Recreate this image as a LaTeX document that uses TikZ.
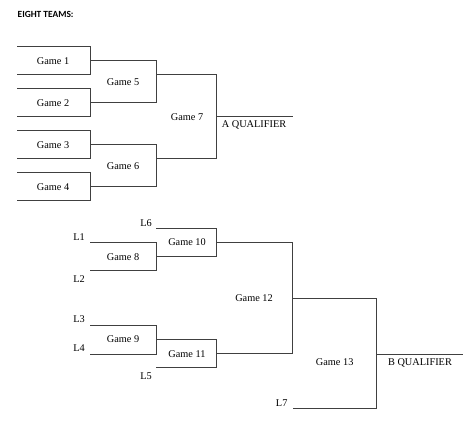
\documentclass[tikz,border=0pt]{standalone}
\usepackage{fontspec}
\setmainfont{Liberation Serif}
\newfontfamily\headfont{Carlito}
\begin{document}
\begin{tikzpicture}[x=1pt,y=-1pt,
  bline/.style={draw=black!75,line width=0.9pt},
  lbl/.style={inner sep=0pt,font=\fontsize{10.3}{12}\selectfont}]
\useasboundingbox (0,0) rectangle (474,426);
\node[anchor=west,inner sep=0pt,font=\headfont\bfseries\fontsize{9.4}{11}\selectfont] (title) at (17.5,14) {EIGHT TEAMS:};
% top bracket coordinates
\foreach \n/\a/\b in {1/46/74,2/88/116,3/130/158,4/172/200}{
  \coordinate (g\n tl) at (17,\a); \coordinate (g\n tr) at (90,\a);
  \coordinate (g\n br) at (90,\b); \coordinate (g\n bl) at (17,\b);
}
\foreach \n in {1,2,3,4}{ \draw[bline] (g\n tl) -- (g\n tr) -- (g\n br) -- (g\n bl); }
\coordinate (g5tl) at (90,60); \coordinate (g5tr) at (156,60);
\coordinate (g5br) at (156,102); \coordinate (g5bl) at (90,102);
\coordinate (g6tl) at (90,144); \coordinate (g6tr) at (156,144);
\coordinate (g6br) at (156,186); \coordinate (g6bl) at (90,186);
\coordinate (g7tl) at (156,74); \coordinate (g7tr) at (216,74);
\coordinate (g7br) at (216,158); \coordinate (g7bl) at (156,158);
\coordinate (aq1) at (216,116); \coordinate (aq2) at (293,116);
\draw[bline] (g5tl) -- (g5tr) -- (g5br) -- (g5bl);
\draw[bline] (g6tl) -- (g6tr) -- (g6br) -- (g6bl);
\draw[bline] (g7tl) -- (g7tr) -- (g7br) -- (g7bl);
\draw[bline] (aq1) -- (aq2);
\node[lbl] (t1) at (53,61) {Game 1};
\node[lbl] (t2) at (53,102.7) {Game 2};
\node[lbl] (t3) at (53,145.3) {Game 3};
\node[lbl] (t4) at (53,187) {Game 4};
\node[lbl] (t5) at (123,82) {Game 5};
\node[lbl] (t6) at (123,165.7) {Game 6};
\node[lbl] (t7) at (187,117) {Game 7};
\node[lbl] (taq) at (254,125) {A QUALIFIER};
% bottom bracket
\coordinate (g8tl) at (90,242); \coordinate (g8tr) at (156,242);
\coordinate (g8br) at (156,270); \coordinate (g8bl) at (90,270);
\coordinate (g10tl) at (156,228); \coordinate (g10tr) at (216,228);
\coordinate (g10br) at (216,256); \coordinate (g10bl) at (156,256);
\coordinate (g9tl) at (90,325); \coordinate (g9tr) at (156,325);
\coordinate (g9br) at (156,354); \coordinate (g9bl) at (90,354);
\coordinate (g11tl) at (156,339); \coordinate (g11tr) at (216,339);
\coordinate (g11br) at (216,367); \coordinate (g11bl) at (156,367);
\coordinate (g12tl) at (216,242); \coordinate (g12tr) at (292,242);
\coordinate (g12br) at (292,353); \coordinate (g12bl) at (216,353);
\coordinate (g13tl) at (292,298); \coordinate (g13tr) at (376,298);
\coordinate (g13br) at (376,408); \coordinate (g13bl) at (293,408);
\coordinate (bq1) at (376,354); \coordinate (bq2) at (463,354);
\draw[bline] (g8tl) -- (g8tr) -- (g8br) -- (g8bl);
\draw[bline] (g10tl) -- (g10tr) -- (g10br) -- (g10bl);
\draw[bline] (g9tl) -- (g9tr) -- (g9br) -- (g9bl);
\draw[bline] (g11tl) -- (g11tr) -- (g11br) -- (g11bl);
\draw[bline] (g12tl) -- (g12tr) -- (g12br) -- (g12bl);
\draw[bline] (g13tl) -- (g13tr) -- (g13br) -- (g13bl);
\draw[bline] (bq1) -- (bq2);
\node[lbl] (l1) at (79,236.7) {L1};
\node[lbl] (l2) at (79,279) {L2};
\node[lbl] (l6) at (146,222.7) {L6};
\node[lbl] (l3) at (79,319.3) {L3};
\node[lbl] (l4) at (79,347.7) {L4};
\node[lbl] (l5) at (146,375.7) {L5};
\node[lbl] (l7) at (281.7,402.7) {L7};
\node[lbl] (t8) at (123,256.7) {Game 8};
\node[lbl] (t10) at (187,242) {Game 10};
\node[lbl] (t9) at (123,339.3) {Game 9};
\node[lbl] (t11) at (187,354) {Game 11};
\node[lbl] (t12) at (254,298) {Game 12};
\node[lbl] (t13) at (334.7,362) {Game 13};
\node[lbl] (tbq) at (420,362.7) {B QUALIFIER};
\end{tikzpicture}
\end{document}
